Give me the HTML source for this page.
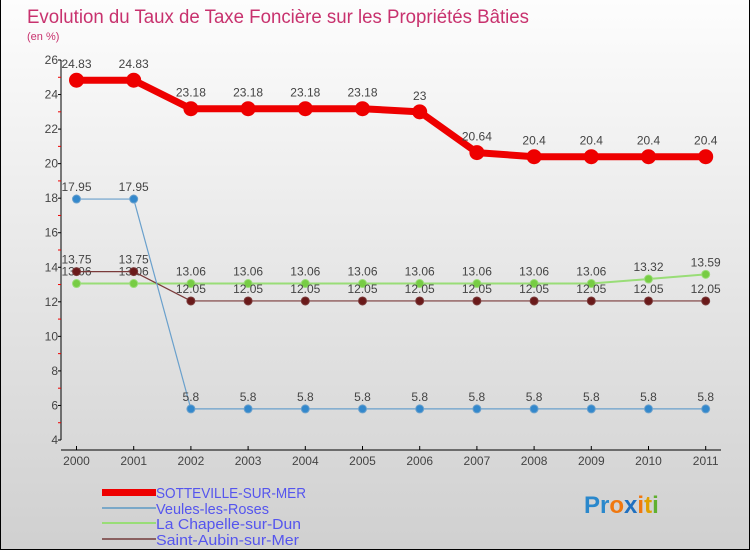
<!DOCTYPE html>
<html><head><meta charset="utf-8"><style>
body{margin:0}
#c{width:750px;height:550px;position:relative;background:linear-gradient(#fdfdfd,#d0d0d0);box-sizing:border-box;border:1px solid #000;border-top:none;overflow:hidden;font-family:"Liberation Sans",sans-serif}
text{font-family:"Liberation Sans",sans-serif}
</style></head><body>
<div id="c">
<svg id="s" width="750" height="550" xmlns="http://www.w3.org/2000/svg">
<text x="26" y="23" font-size="19" fill="#c8326e" textLength="502" lengthAdjust="spacingAndGlyphs">Evolution du Taux de Taxe Foncière sur les Propriétés Bâties</text>
<text x="26" y="40" font-size="11" fill="#c8326e">(en %)</text>
<g id="axes"></g><g id="series"></g>
<g>
<rect x="101" y="489" width="54" height="7" fill="#e00"/>
<text x="155" y="498" font-size="15" fill="#5555ee" textLength="150" lengthAdjust="spacingAndGlyphs">SOTTEVILLE-SUR-MER</text>
<rect x="101" y="507" width="54" height="2" fill="#7aa8c8"/>
<text x="155" y="514" font-size="15" fill="#5555ee" textLength="113" lengthAdjust="spacingAndGlyphs">Veules-les-Roses</text>
<rect x="101" y="522" width="54" height="2" fill="#99dd77"/>
<text x="155" y="529" font-size="15" fill="#5555ee" textLength="145" lengthAdjust="spacingAndGlyphs">La Chapelle-sur-Dun</text>
<rect x="101" y="538" width="54" height="2" fill="#8a6060"/>
<text x="155" y="545" font-size="15" fill="#5555ee" textLength="143" lengthAdjust="spacingAndGlyphs">Saint-Aubin-sur-Mer</text>
</g>
<text x="583" y="513" font-size="24" font-weight="bold"><tspan fill="#2a88cc">Pr</tspan><tspan fill="#f07810">o</tspan><tspan fill="#2070c0">x</tspan><tspan fill="#f07810">i</tspan><tspan fill="#e0a000">t</tspan><tspan fill="#60b030">i</tspan></text>
</svg>
</div>
<script>
const years=["2000","2001","2002","2003","2004","2005","2006","2007","2008","2009","2010","2011"];
const sotteville=[24.83,24.83,23.18,23.18,23.18,23.18,23,20.64,20.4,20.4,20.4,20.4];
const veules=[17.95,17.95,5.8,5.8,5.8,5.8,5.8,5.8,5.8,5.8,5.8,5.8];
const chapelle=[13.06,13.06,13.06,13.06,13.06,13.06,13.06,13.06,13.06,13.06,13.32,13.59];
const saintAubin=[13.75,13.75,12.05,12.05,12.05,12.05,12.05,12.05,12.05,12.05,12.05,12.05];
const yTicks=[4,6,8,10,12,14,16,18,20,22,24,26];
const NS="http://www.w3.org/2000/svg";
const yMin=4,yMax=26,yTop=60,yBot=440,xAxis=60;
function X(i){return 75.5+i*57.2;}
function Y(v){return yBot-(v-yMin)/(yMax-yMin)*(yBot-yTop);}
function mk(tag,at,parent){const e=document.createElementNS(NS,tag);for(const k in at)e.setAttribute(k,at[k]);parent.appendChild(e);return e;}
const ax=document.getElementById('axes');
let l=mk('line',{x1:xAxis,y1:yTop,x2:xAxis,y2:yBot,stroke:'#000','stroke-width':1},ax);


l=mk('line',{x1:xAxis,y1:450,x2:720,y2:450,stroke:'#000','stroke-width':1},ax);


yTicks.forEach(v=>{
 mk('line',{x1:xAxis-3,y1:Y(v),x2:xAxis,y2:Y(v),stroke:'#000'},ax);
 if(v<26) mk('line',{x1:xAxis-3,y1:Y(v+1),x2:xAxis,y2:Y(v+1),stroke:'#e00'},ax);
 const t=mk('text',{x:xAxis-3,y:Y(v)+4,'font-size':12,'text-anchor':'end',fill:'#444'},ax);
 t.textContent=v;
 
 
});
years.forEach((y,i)=>{
 mk('line',{x1:X(i),y1:446,x2:X(i),y2:450,stroke:'#000'},ax);
 const t=mk('text',{x:X(i),y:465,'font-size':12,'text-anchor':'middle',fill:'#444'},ax);
 t.textContent=y;
 
 
});
const sg=document.getElementById('series');
function series(data,name,color,dot,w,r,labOff){
 const g=mk('g',{},sg);
 
 
 const p=mk('polyline',{points:data.map((v,i)=>X(i)+','+Y(v)).join(' '),fill:'none',stroke:color,'stroke-width':w,'stroke-linejoin':'round'},g);
 
 
 data.forEach((v,i)=>{
  const c=mk('circle',{cx:X(i),cy:Y(v),r:r,fill:dot,stroke:color,'stroke-width':1},g);
  
  
  const t=mk('text',{x:X(i),y:Y(v)-labOff,'font-size':12,'text-anchor':'middle',fill:'#444'},g);
  t.textContent=v;
  
  
 });
}
series(chapelle,'la-chapelle-sur-dun','#99dd77','#77cc44',2,4,8);
series(saintAubin,'saint-aubin-sur-mer','#7a3a3a','#6a1a1a',1.2,4,8);
series(veules,'veules-les-roses','#6aa0cc','#3388cc',1.2,4,8);
series(sotteville,'sotteville-sur-mer','#e00','#e00',7,7,12);
</script>
</body></html>
